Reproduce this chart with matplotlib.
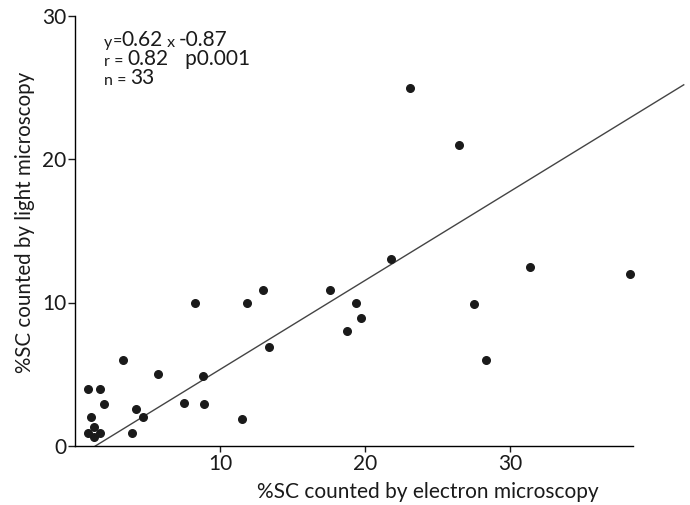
import numpy as np
import matplotlib
matplotlib.use('Agg')
import matplotlib.pyplot as plt

plt.rcParams['font.family'] = ['Lato', 'DejaVu Sans']

# %SC counted by electron microscopy (x) vs light microscopy (y)
sc_electron = [3.3, 5.7, 0.9, 1.7, 2.0, 4.2, 4.7, 7.5, 1.1, 3.9,
               0.9, 1.7, 1.3, 1.3, 21.8, 17.6, 19.4, 19.7, 18.8, 13.0,
               11.9, 8.3, 13.4, 8.8, 8.9, 11.55, 26.5, 31.4, 38.3, 27.5,
               28.35, 23.1]
sc_light = [6.0, 5.0, 4.0, 4.0, 2.9, 2.6, 2.0, 3.0, 2.0, 0.9,
            0.9, 0.9, 1.3, 0.6, 13.0, 10.9, 10.0, 8.9, 8.0, 10.9,
            10.0, 10.0, 6.9, 4.9, 2.9, 1.9, 21.0, 12.5, 12.0, 9.9,
            6.0, 24.95]

# regression line y = 0.62x - 0.87
slope = 0.62
intercept = -0.87
line_x = [1.4, 42.0]

x_ticks = [10, 20, 30]
y_ticks = [0, 10, 20, 30]

# annotation lines: (text, size) pieces, letters smaller than the numbers
BIG, SMALL = 15, 11.5
stat_lines = [
    [('y', SMALL), ('=', SMALL), ('0.62', BIG), (' x ', SMALL), ('-0.87', BIG)],
    [('r', SMALL), (' = ', SMALL), ('0.82', BIG), ('   p0.001', BIG)],
    [('n', SMALL), (' = ', SMALL), ('33', BIG)],
]
stat_y = [47, 66, 85]  # baseline in pixels from top

ink = '#1a1a1a'

fig = plt.figure(figsize=(6.9, 5.05), dpi=100)
ax = fig.add_axes([75 / 690, 59 / 505, 558 / 690, 430.5 / 505])

ax.scatter(sc_electron, sc_light, s=30, color=ink, zorder=3, clip_on=False)
lx = np.array(line_x)
ax.plot(lx, slope * lx + intercept, color='#444444', linewidth=1.0, clip_on=False)

ax.set_xlim(0, 38.5)
ax.set_ylim(0, 30)
ax.spines['top'].set_visible(False)
ax.spines['right'].set_visible(False)
ax.spines['left'].set_linewidth(1.0)
ax.spines['bottom'].set_linewidth(1.0)

ax.set_xticks(x_ticks)
ax.set_yticks(y_ticks)
ax.tick_params(axis='both', direction='out', length=5, width=1, labelsize=15, colors=ink)
ax.tick_params(axis='x', length=4, pad=2)
ax.tick_params(axis='y', pad=1)

# axis labels placed like in the reference
fig.text(428 / 690, 1 - 492 / 505, '%SC counted by electron microscopy',
         ha='center', va='center', fontsize=15, color=ink)
fig.text(25 / 690, 1 - 222 / 505, '%SC counted by light microscopy',
         ha='center', va='center', rotation=90, fontsize=14.8, color=ink)

# regression annotation, built piece by piece
for pieces, yb in zip(stat_lines, stat_y):
    prev = None
    for s, size in pieces:
        if prev is None:
            prev = fig.text(104 / 690, 1 - yb / 505, s, ha='left', va='baseline',
                            fontsize=size, color=ink)
        else:
            prev = ax.annotate(s, xy=(1, 0), xycoords=prev, ha='left', va='bottom',
                               fontsize=size, color=ink)

fig.savefig('out.png', dpi=100)
